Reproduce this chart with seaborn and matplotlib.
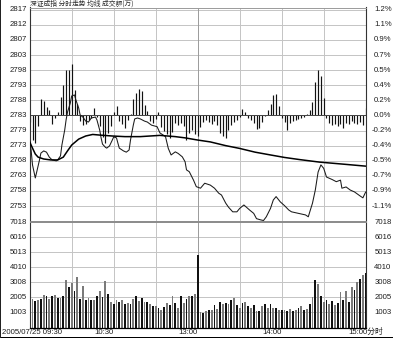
import matplotlib
matplotlib.use("Agg")
import matplotlib.pyplot as plt
import matplotlib.transforms as mtransforms
from matplotlib.patches import Rectangle
import pandas as pd
import seaborn as sns

# ---------------- data ----------------
title_text = "深证成指 分时走势 均线 成交额(万)"
prev_close = 2783.3
price_step = 4.86
price_labels_left = ["2817", "2812", "2807", "2803", "2798", "2793", "2788", "2783",
                     "2779", "2773", "2768", "2763", "2758", "2753"]
pct_labels_right = ["1.2%", "1.1%", "0.9%", "0.7%", "0.5%", "0.4%", "0.2%", "0.0%",
                    "-0.2%", "-0.4%", "-0.5%", "-0.7%", "-0.9%", "-1.1%"]
vol_max = 7018
vol_labels = ["7018", "6016", "5013", "4010", "3008", "2005", "1003"]
time_labels = ["2005/07/25 09:30", "10:30", "13:00", "14:00", "15:00分时"]
time_label_minutes = [0, 60, 120, 180, 240]

price_minutes = [0, 1, 2, 4, 5, 7, 8, 10, 12, 14,
                 16, 19, 20, 22, 23, 25, 26, 27, 29, 30,
                 32, 33, 35, 36, 38, 40, 42, 44, 47, 48,
                 50, 51, 52, 54, 55, 57, 59, 60, 62, 63,
                 64, 67, 69, 71, 72, 74, 75, 77, 79, 82,
                 84, 87, 91, 93, 97, 99, 101, 104, 106, 109,
                 111, 112, 114, 117, 119, 122, 125, 129, 132, 135,
                 137, 140, 142, 145, 148, 150, 153, 155, 157, 160,
                 162, 165, 167, 169, 172, 174, 176, 179, 182, 185,
                 187, 192, 197, 199, 200, 202, 204, 206, 208, 210,
                 212, 216, 219, 222, 223, 226, 229, 232, 236, 238,
                 240]
price_values = [2774.8, 2772.2, 2767.4, 2763.2, 2765.1, 2769.0, 2771.2, 2771.9, 2771.5, 2769.9,
                2769.0, 2768.7, 2769.0, 2770.3, 2773.8, 2778.6, 2781.9, 2784.4, 2787.3, 2789.6,
                2789.9, 2788.3, 2785.7, 2783.5, 2782.8, 2781.5, 2781.2, 2782.5, 2782.8, 2781.9,
                2778.6, 2776.1, 2774.1, 2773.1, 2772.8, 2773.5, 2775.4, 2776.4, 2776.1, 2774.4,
                2772.8, 2771.9, 2771.5, 2772.2, 2775.4, 2780.2, 2782.2, 2782.5, 2782.2, 2781.5,
                2781.2, 2780.2, 2779.7, 2777.7, 2776.5, 2772.7, 2770.6, 2771.6, 2771.1, 2770.0,
                2768.4, 2765.8, 2765.2, 2762.5, 2760.4, 2759.9, 2761.5, 2760.9, 2759.9, 2758.3,
                2757.7, 2755.1, 2753.8, 2752.3, 2752.3, 2753.4, 2754.5, 2753.7, 2752.9, 2751.8,
                2750.1, 2749.7, 2749.5, 2750.7, 2753.4, 2756.1, 2757.2, 2755.5, 2754.3, 2752.9,
                2752.3, 2751.8, 2751.3, 2750.7, 2752.2, 2755.1, 2759.3, 2765.1, 2767.4, 2766.3,
                2763.5, 2762.7, 2762.0, 2762.5, 2759.9, 2760.3, 2759.3, 2758.7, 2757.4, 2756.8,
                2758.7]

avg_minutes = [0, 2, 4, 6, 10, 15, 20, 24, 27, 30, 35, 40, 45, 50, 59, 68, 79, 93, 104, 111,
               120, 129, 140, 150, 161, 172, 182, 193, 207, 225, 240]
avg_values = [2774.8, 2772.8, 2770.9, 2769.9, 2769.3, 2769.0, 2769.0, 2769.9, 2771.9, 2773.8,
              2775.7, 2776.7, 2777.2, 2777.0, 2776.7, 2776.5, 2776.5, 2776.9, 2776.5, 2776.1,
              2775.4, 2774.8, 2773.6, 2772.7, 2771.5, 2770.6, 2769.8, 2769.1, 2768.3, 2767.6,
              2767.0]

bar_minutes = list(range(0, 241, 2))
strength_values = [-2.1, -7.9, -8.9, -3.4, 5.3, 4.7, 2.7, 1.8, -2.7, -0.8,
                   1.1, 6.0, 9.8, 14.6, 14.6, 16.6, 8.2, 3.7, -1.8, -3.1,
                   -2.7, -1.4, -0.8, 2.4, -0.5, -3.4, -6.9, -8.9, -5.6, -3.4,
                   1.1, 3.1, -1.8, -2.7, -4.0, -1.4, 0.5, 5.3, 7.2, 8.5,
                   7.9, 3.4, 1.4, -1.8, -2.4, -1.1, 1.1, -3.7, -5.0, -6.0,
                   -7.2, -5.3, -2.4, -3.1, -2.4, -3.4, -7.9, -5.6, -4.7, -6.0,
                   -6.6, -3.7, -2.1, -1.4, -2.1, -2.7, -1.8, -3.1, -5.6, -6.6,
                   -7.2, -4.7, -3.1, -2.1, -1.4, -0.5, 2.1, 1.1, -0.8, -1.4,
                   -2.4, -4.3, -4.0, -2.1, -0.2, 1.8, 3.7, 6.6, 6.9, 3.1,
                   -0.8, -2.1, -4.7, -2.4, -1.8, -1.4, -1.1, -0.8, -0.5, 0.5,
                   1.8, 4.3, 10.8, 14.6, 12.7, 5.6, -0.8, -2.4, -3.1, -2.7,
                   -3.4, -2.7, -4.0, -2.4, -2.7, -1.8, -2.4, -2.7, -2.1, -3.1,
                   2.4]
volume_values = [1257, 1914, 1760, 1804, 1914, 2198, 2067, 1914, 2132, 2198,
                 1980, 1980, 2132, 3148, 2679, 2941, 2460, 3380, 1914, 2788,
                 1804, 1980, 1804, 1848, 2132, 2460, 2023, 3105, 2242, 1695,
                 1585, 1848, 1695, 1804, 1585, 1630, 1585, 1914, 2067, 1760,
                 1980, 1695, 1695, 1541, 1410, 1410, 1300, 1192, 1367, 1630,
                 1476, 2132, 1630, 1323, 2067, 1630, 1914, 2067, 2067, 2242,
                 4865, 1039, 973, 1104, 1148, 1148, 1476, 1257, 1695, 1585,
                 1630, 1541, 1804, 1980, 1476, 1323, 1630, 1695, 1410, 1323,
                 1476, 1104, 1104, 1410, 1541, 1323, 1585, 1323, 1323, 1148,
                 1148, 1192, 1104, 1257, 1104, 1192, 1323, 1410, 1192, 1257,
                 1541, 2023, 3148, 2897, 2067, 1695, 1848, 1541, 1760, 1476,
                 1630, 2351, 1848, 2460, 1695, 2722, 2504, 3007, 3214, 3510,
                 3663]

# ---------------- style ----------------
sns.set_theme(style="white")
plt.rcParams["font.family"] = ["Liberation Sans", "Noto Sans CJK SC", "DejaVu Sans"]

W, H = 393, 338
fig = plt.figure(figsize=(W / 100, H / 100), dpi=100)
fig.patch.set_facecolor("white")


def fx(px):
    return px / W


def fy(py):
    return 1 - py / H


L, R = 29.7, 365.7
ax1 = fig.add_axes([fx(L), fy(221.2), fx(R) - fx(L), fy(7.5) - fy(221.2)])
ax2 = fig.add_axes([fx(L), fy(327.5), fx(R) - fx(L), fy(222.2) - fy(327.5)])

grid_c = "#c4c4c4"
text_c = "#1e1e1e"
fs = 5.6

# ---- price panel ----
ax1.set_xlim(0, 240)
ax1.set_ylim(prev_close - 7 * price_step, prev_close + 7 * price_step + 0.74)
for k in range(-6, 8):
    ax1.axhline(prev_close + k * price_step, color=grid_c, lw=0.7, zorder=0)
for m in range(30, 240, 30):
    ax1.axvline(m, color="#9a9a9a" if m == 120 else grid_c, lw=0.7, zorder=0)

ax1.vlines(bar_minutes, prev_close,
           [prev_close + v for v in strength_values],
           colors="#111111", lw=0.85, zorder=2)
ax1.axhline(prev_close, color="#444444", lw=0.7, zorder=2)

price_df = pd.DataFrame({"minute": price_minutes, "price": price_values})
avg_df = pd.DataFrame({"minute": avg_minutes, "price": avg_values})
sns.lineplot(data=price_df, x="minute", y="price", color="#1a1a1a", lw=0.75,
             ax=ax1, zorder=3)
sns.lineplot(data=avg_df, x="minute", y="price", color="#000000", lw=1.1,
             ax=ax1, zorder=3)

# ---- volume panel ----
vol_df = pd.DataFrame({"minute": bar_minutes, "volume": volume_values})
sns.barplot(data=vol_df, x="minute", y="volume", native_scale=True, width=0.6,
            color="#111111", errorbar=None, ax=ax2, zorder=2)
for i, p in enumerate(ax2.patches):
    p.set_facecolor("#111111" if i % 2 == 0 else "#7a7a7a")
    p.set_edgecolor("none")
ax2.set_xlim(0, 240)
ax2.set_ylim(0, vol_max)
for k in range(1, 7):
    ax2.axhline(vol_max * k / 7, color=grid_c, lw=0.7, zorder=0)
for m in range(30, 240, 30):
    ax2.axvline(m, color="#9a9a9a" if m == 120 else grid_c, lw=0.7, zorder=0)

for ax in (ax1, ax2):
    ax.set_xticks([])
    ax.set_yticks([])
    ax.set_xlabel("")
    ax.set_ylabel("")
    ax.set_facecolor("white")
    for s in ("left", "right"):
        ax.spines[s].set_color("#333333")
        ax.spines[s].set_linewidth(0.8)
ax1.spines["top"].set_color("#9a9a9a")
ax1.spines["top"].set_linewidth(0.7)
ax1.spines["bottom"].set_color("#8a8a8a")
ax1.spines["bottom"].set_linewidth(0.7)
ax2.spines["top"].set_color("#8a8a8a")
ax2.spines["top"].set_linewidth(0.7)
ax2.spines["bottom"].set_color("#000000")
ax2.spines["bottom"].set_linewidth(0.9)

# ---- labels ----
t1 = mtransforms.blended_transform_factory(fig.transFigure, ax1.transData)
for i, lab in enumerate(price_labels_left):
    yv = prev_close + (7 - i) * price_step
    ax1.text(fx(26.8), yv, lab, transform=t1, ha="right", va="center",
             fontsize=fs, color=text_c)
for i, lab in enumerate(pct_labels_right):
    yv = prev_close + (7 - i) * price_step
    ax1.text(fx(391.5), yv, lab, transform=t1, ha="right", va="center",
             fontsize=fs, color=text_c)

t2 = mtransforms.blended_transform_factory(fig.transFigure, ax2.transData)
for i, lab in enumerate(vol_labels):
    vv = vol_max * (7 - i) / 7
    ax2.text(fx(26.8), vv, lab, transform=t2, ha="right", va="center",
             fontsize=fs, color=text_c)
    ax2.text(fx(391.5), vv, lab, transform=t2, ha="right", va="center",
             fontsize=fs, color=text_c)

t3 = mtransforms.blended_transform_factory(ax2.transData, fig.transFigure)
for lab, m in zip(time_labels, time_label_minutes):
    if m == 0:
        fig.text(fx(2.0), fy(332), lab, ha="left", va="center", fontsize=fs, color=text_c)
    elif m == 240:
        fig.text(fx(348.0), fy(332), lab, ha="left", va="center", fontsize=fs, color=text_c)
    else:
        ax2.text(m, fy(332), lab, transform=t3, ha="right", va="center",
                 fontsize=fs, color=text_c)

fig.text(fx(29.5), fy(3.3), title_text, ha="left", va="center", fontsize=4.9,
         color="#2a2a2a", family=["Noto Sans CJK SC", "DejaVu Sans"])

# frame edges of the screenshot
fig.patches.append(Rectangle((0, 0), 1, fy(336.6), transform=fig.transFigure,
                             facecolor="black", edgecolor="none"))
fig.patches.append(Rectangle((0, 0), fx(1.0), 1, transform=fig.transFigure,
                             facecolor="#222222", edgecolor="none"))

fig.savefig("out.png", dpi=100, facecolor="white")
